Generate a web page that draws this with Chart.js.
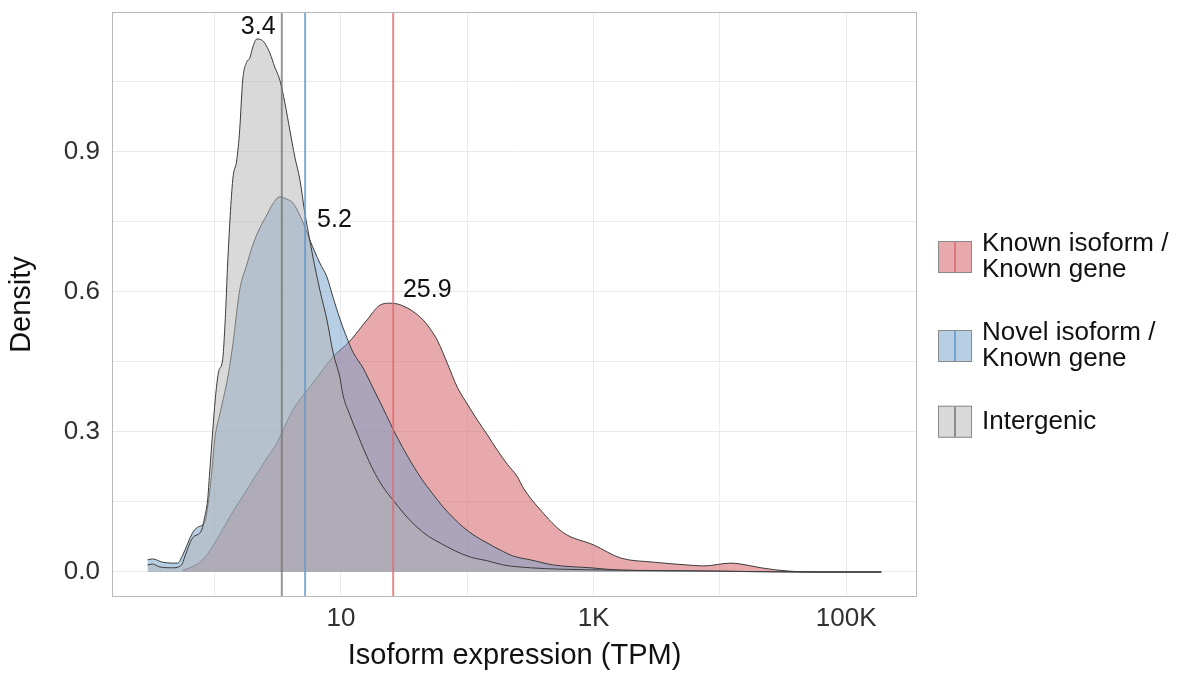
<!DOCTYPE html>
<html>
<head>
<meta charset="utf-8">
<title>Isoform expression density</title>
<script src="https://cdn.jsdelivr.net/npm/chart.js@4.4.1/dist/chart.umd.min.js"></script>
<style>
  html, body { margin: 0; padding: 0; background: #fff; }
</style>
</head>
<body>
<canvas id="graficoDensidade" width="1184" height="673"></canvas>
<script>
// categories (legend order)
const categories = [
    ['Known isoform /', 'Known gene'],
    ['Novel isoform /', 'Known gene'],
    ['Intergenic']
];

// median TPM per category (vertical lines + labels)
const medianTPM = [25.9, 5.2, 3.4];

// density curves, x = log10(TPM)
const knownLog = [-0.254, -0.198, -0.095, 0.016, 0.119, 0.254, 0.413, 0.492, 0.619, 0.778, 0.937, 1.071, 1.206, 1.310, 1.389, 1.452, 1.524, 1.587, 1.651, 1.706, 1.762, 1.841, 1.921, 2.000, 2.079, 2.159, 2.238, 2.317, 2.397, 2.444, 2.579, 2.762, 3.000, 3.214, 3.476, 3.746, 3.873, 4.087, 4.167, 4.325, 4.540, 4.802, 5.278];
const knownDensity = [0.004, 0.009, 0.026, 0.069, 0.118, 0.176, 0.244, 0.276, 0.347, 0.405, 0.461, 0.495, 0.540, 0.572, 0.576, 0.574, 0.566, 0.555, 0.540, 0.521, 0.497, 0.448, 0.396, 0.360, 0.326, 0.294, 0.261, 0.231, 0.204, 0.180, 0.133, 0.084, 0.058, 0.030, 0.021, 0.015, 0.013, 0.019, 0.017, 0.009, 0.002, 0.000, 0.000];

const novelLog = [-0.532, -0.492, -0.413, -0.294, -0.254, -0.175, -0.135, -0.079, -0.056, -0.024, 0.000, 0.048, 0.103, 0.143, 0.198, 0.254, 0.302, 0.357, 0.413, 0.460, 0.516, 0.571, 0.619, 0.698, 0.754, 0.833, 0.889, 0.937, 0.992, 1.048, 1.095, 1.175, 1.254, 1.333, 1.444, 1.532, 1.627, 1.722, 1.810, 1.889, 1.968, 2.063, 2.159, 2.262, 2.365, 2.500, 2.683, 2.976, 3.214, 3.849, 4.643, 5.278];
const novelDensity = [0.026, 0.028, 0.021, 0.019, 0.036, 0.084, 0.096, 0.107, 0.139, 0.212, 0.283, 0.347, 0.416, 0.486, 0.604, 0.658, 0.701, 0.737, 0.765, 0.789, 0.804, 0.799, 0.791, 0.750, 0.711, 0.662, 0.632, 0.589, 0.542, 0.501, 0.471, 0.437, 0.394, 0.351, 0.289, 0.246, 0.204, 0.169, 0.139, 0.116, 0.096, 0.077, 0.062, 0.047, 0.034, 0.026, 0.015, 0.009, 0.004, 0.002, 0.000, 0.000];

const interLog = [-0.532, -0.492, -0.437, -0.333, -0.262, -0.238, -0.175, -0.103, -0.079, -0.056, -0.040, -0.016, 0.008, 0.032, 0.063, 0.087, 0.103, 0.143, 0.175, 0.198, 0.222, 0.254, 0.278, 0.302, 0.333, 0.373, 0.397, 0.437, 0.476, 0.516, 0.556, 0.595, 0.635, 0.675, 0.714, 0.738, 0.778, 0.833, 0.889, 0.937, 0.992, 1.016, 1.071, 1.127, 1.190, 1.254, 1.333, 1.413, 1.508, 1.603, 1.690, 1.786, 1.905, 2.024, 2.159, 2.286, 2.500, 2.738, 3.159, 3.952, 4.643, 5.278];
const interDensity = [0.015, 0.017, 0.011, 0.009, 0.015, 0.032, 0.073, 0.090, 0.118, 0.154, 0.212, 0.300, 0.380, 0.430, 0.455, 0.560, 0.662, 0.840, 0.883, 0.947, 1.054, 1.093, 1.101, 1.125, 1.142, 1.140, 1.133, 1.112, 1.082, 1.054, 1.005, 0.947, 0.889, 0.840, 0.769, 0.733, 0.675, 0.604, 0.540, 0.471, 0.416, 0.379, 0.336, 0.298, 0.257, 0.219, 0.182, 0.154, 0.122, 0.096, 0.077, 0.062, 0.045, 0.032, 0.024, 0.015, 0.009, 0.006, 0.004, 0.002, 0.000, 0.000];

// tick labels
const xGridLog = [0, 1, 2, 3, 4, 5];
const xTickLog = [1, 3, 5];
const xTickLabels = ['10', '1K', '100K'];
const yGrid = [0, 0.15, 0.3, 0.45, 0.6, 0.75, 0.9, 1.05];
const yTickValues = [0, 0.3, 0.6, 0.9];
const yTickLabels = ['0.0', '0.3', '0.6', '0.9'];

// styling
const fillColours = ['rgba(209,84,90,0.5)', 'rgba(111,159,204,0.5)', 'rgba(180,180,180,0.5)'];
const lineColours = ['rgba(220,110,116,0.8)', 'rgba(100,152,202,0.8)', 'rgba(115,115,115,0.75)'];
const labelAt = [[1.683, 0.603], [0.948, 0.754], [0.345, 1.168]]; // where the median labels sit
const FONT = '"Liberation Sans", Arial, Helvetica, sans-serif';

Chart.defaults.font.family = FONT;

function toPoints(xs, ys) {
    return xs.map((v, i) => ({x: v, y: ys[i]}));
}

const series = [[knownLog, knownDensity], [novelLog, novelDensity], [interLog, interDensity]];

const extras = {
    id: 'extras',
    afterDatasetsDraw(chart) {
        const {ctx, chartArea: a, scales: {x, y}} = chart;
        ctx.save();
        ctx.beginPath();
        ctx.rect(a.left, a.top, a.width, a.height);
        ctx.clip();
        medianTPM.forEach((m, i) => {
            const px = x.getPixelForValue(Math.log10(m));
            ctx.strokeStyle = lineColours[i];
            ctx.lineWidth = 2;
            ctx.beginPath();
            ctx.moveTo(px, a.top);
            ctx.lineTo(px, a.bottom);
            ctx.stroke();
        });
        ctx.fillStyle = '#111';
        ctx.font = '25px ' + FONT;
        ctx.textAlign = 'center';
        ctx.textBaseline = 'middle';
        medianTPM.forEach((m, i) => {
            ctx.fillText(String(m), x.getPixelForValue(labelAt[i][0]), y.getPixelForValue(labelAt[i][1]));
        });
        ctx.restore();

        // panel border
        ctx.save();
        ctx.strokeStyle = '#b8b8b8';
        ctx.lineWidth = 1;
        ctx.strokeRect(a.left + 0.5, a.top + 0.5, a.width - 1, a.height - 1);
        ctx.restore();
    },
    afterDraw(chart) {
        // ggplot-style legend: box with the median line through it
        const ctx = chart.ctx;
        const keyX = 938, keyW = 34, keyH = 32, textX = 982, lineH = 26.5;
        let cursor = 230.5;
        ctx.save();
        ctx.font = '26px ' + FONT;
        ctx.textAlign = 'left';
        ctx.textBaseline = 'middle';
        categories.forEach((lines, i) => {
            const h = lines.length * lineH;
            const cy = cursor + h / 2;
            const top = cy - keyH / 2;
            ctx.fillStyle = fillColours[i];
            ctx.fillRect(keyX, top, keyW, keyH);
            ctx.strokeStyle = '#8a8a8a';
            ctx.lineWidth = 1;
            ctx.strokeRect(keyX + 0.5, top + 0.5, keyW - 1, keyH - 1);
            ctx.strokeStyle = lineColours[i];
            ctx.lineWidth = 2;
            ctx.beginPath();
            ctx.moveTo(keyX + keyW / 2, top + 1);
            ctx.lineTo(keyX + keyW / 2, top + keyH - 1);
            ctx.stroke();
            ctx.fillStyle = '#111';
            lines.forEach((t, k) => {
                ctx.fillText(t, textX, cursor + lineH * (k + 0.5));
            });
            cursor += h + 36;
        });
        ctx.restore();
    }
};

const graficoDensidade = document.getElementById('graficoDensidade').getContext('2d');

new Chart(graficoDensidade, {
    type: 'line',
    data: {
        datasets: series.map((s, i) => ({
            label: categories[i].join(' '),
            data: toPoints(s[0], s[1]),
            backgroundColor: fillColours[i],
            borderColor: '#3b3b3b',
            borderWidth: 1,
            fill: 'origin',
            pointRadius: 0,
            cubicInterpolationMode: 'monotone',
            order: 3 - i
        }))
    },
    options: {
        responsive: false,
        animation: false,
        devicePixelRatio: 1,
        layout: {
            padding: {top: 12, right: 267, bottom: 0, left: 0}
        },
        plugins: {
            legend: {display: false},
            tooltip: {enabled: false}
        },
        scales: {
            x: {
                type: 'linear',
                min: -0.813,
                max: 5.561,
                afterBuildTicks: (scale) => { scale.ticks = xGridLog.map(v => ({value: v})); },
                afterFit: (scale) => {
                    scale.height = 76;
                    scale.paddingLeft = 0;
                    scale.paddingRight = 0;
                },
                grid: {color: '#ebebeb', lineWidth: 1, drawTicks: false},
                border: {display: false},
                ticks: {
                    autoSkip: false,
                    maxRotation: 0,
                    padding: 6,
                    color: '#303030',
                    font: {size: 26},
                    callback: (v) => {
                        const k = xTickLog.indexOf(v);
                        return k >= 0 ? xTickLabels[k] : '';
                    }
                },
                title: {
                    display: true,
                    text: 'Isoform expression (TPM)',
                    color: '#111',
                    font: {size: 29},
                    padding: {top: 0, bottom: 0}
                }
            },
            y: {
                type: 'linear',
                min: -0.0536,
                max: 1.2,
                afterBuildTicks: (scale) => { scale.ticks = yGrid.map(v => ({value: v})); },
                afterFit: (scale) => {
                    scale.width = 112;
                    scale.paddingTop = 0;
                    scale.paddingBottom = 0;
                },
                grid: {color: '#ebebeb', lineWidth: 1, drawTicks: false},
                border: {display: false},
                ticks: {
                    autoSkip: false,
                    padding: 12,
                    color: '#303030',
                    font: {size: 26},
                    callback: (v) => {
                        const k = yTickValues.findIndex(t => Math.abs(t - v) < 1e-6);
                        return k >= 0 ? yTickLabels[k] : '';
                    }
                },
                title: {
                    display: true,
                    text: 'Density',
                    color: '#111',
                    font: {size: 29},
                    padding: {top: 5, bottom: 4}
                }
            }
        }
    },
    plugins: [extras]
});
</script>
</body>
</html>
